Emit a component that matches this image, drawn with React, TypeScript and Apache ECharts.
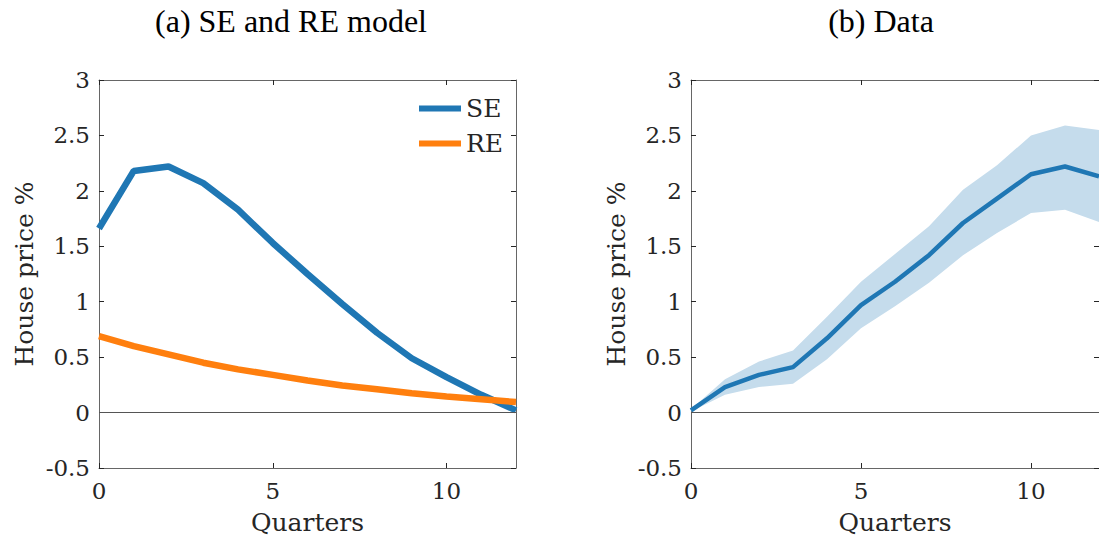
import React, { useEffect, useRef } from "react";
import * as echarts from "echarts";

const quarters = ["0", "1", "2", "3", "4", "5", "6", "7", "8", "9", "10", "11", "12"];
const seValues = [1.66, 2.18, 2.22, 2.07, 1.83, 1.53, 1.25, 0.98, 0.72, 0.49, 0.32, 0.16, 0.02];
const reValues = [0.69, 0.6, 0.525, 0.45, 0.39, 0.34, 0.29, 0.245, 0.21, 0.175, 0.145, 0.12, 0.095];
const dataValues = [0.02, 0.23, 0.34, 0.41, 0.67, 0.97, 1.18, 1.42, 1.71, 1.93, 2.15, 2.22, 2.13];
const dataUpper = [0.03, 0.3, 0.46, 0.56, 0.865, 1.18, 1.43, 1.68, 2.01, 2.23, 2.5, 2.59, 2.55];
const dataLower = [0.01, 0.16, 0.23, 0.26, 0.48, 0.76, 0.96, 1.17, 1.42, 1.62, 1.8, 1.83, 1.72];
const yMin = -0.5;
const yMax = 3;
const yStep = 0.5;
const xTickEvery = 5;

const TITLE_FONT = "'Liberation Serif', serif";
const FONT = "'DejaVu Serif', serif";
const TXT = "#262626";
const AXIS = "#666";

const showTick = (i: number) => i % xTickEvery === 0;

function xAxes(gridIndex: number) {
  return [
    {
      gridIndex,
      type: "category",
      data: quarters,
      boundaryGap: false,
      axisLine: { onZero: false, lineStyle: { color: AXIS, width: 1 } },
      axisTick: { inside: true, length: 5, interval: showTick, lineStyle: { color: TXT } },
      axisLabel: { interval: showTick, margin: 11, fontFamily: FONT, fontSize: 23, color: TXT },
      name: "Quarters",
      nameLocation: "middle",
      nameGap: 42,
      nameTextStyle: { fontFamily: FONT, fontSize: 25, color: TXT },
      splitLine: { show: false },
    },
    {
      gridIndex,
      type: "category",
      position: "top",
      data: quarters,
      boundaryGap: false,
      axisLine: { onZero: false, lineStyle: { color: AXIS, width: 1 } },
      axisTick: { inside: true, length: 5, interval: showTick, lineStyle: { color: TXT } },
      axisLabel: { show: false },
      splitLine: { show: false },
    },
  ];
}

function yAxes(gridIndex: number) {
  return [
    {
      gridIndex,
      type: "value",
      min: yMin,
      max: yMax,
      interval: yStep,
      axisLine: { show: true, lineStyle: { color: AXIS, width: 1 } },
      axisTick: { show: true, inside: true, length: 5, lineStyle: { color: TXT } },
      axisLabel: { margin: 9, fontFamily: FONT, fontSize: 23, color: TXT },
      splitLine: { show: false },
      name: "House price %",
      nameLocation: "middle",
      nameGap: 62,
      nameTextStyle: { fontFamily: FONT, fontSize: 25, color: TXT },
    },
    {
      gridIndex,
      type: "value",
      position: "right",
      min: yMin,
      max: yMax,
      interval: yStep,
      axisLine: { show: true, lineStyle: { color: AXIS, width: 1 } },
      axisTick: { show: true, inside: true, length: 5, lineStyle: { color: TXT } },
      axisLabel: { show: false },
      splitLine: { show: false },
    },
  ];
}

const zeroLine = {
  silent: true,
  symbol: ["none", "none"],
  label: { show: false },
  lineStyle: { color: "#555", width: 1, type: "solid" },
  data: [{ yAxis: 0 }],
};

export default function App() {
  const ref = useRef<HTMLDivElement>(null);
  useEffect(() => {
    if (!ref.current) return;
    const chart = echarts.init(ref.current, null, { renderer: "svg" });
    const bandDiff = dataUpper.map((u, i) => +(u - dataLower[i]).toFixed(4));
    chart.setOption({
      animation: false,
      backgroundColor: "#fff",
      textStyle: { fontFamily: FONT },
      grid: [
        { left: 99, top: 80, width: 417, height: 388 },
        { left: 691, top: 80, width: 416, height: 388 },
      ],
      xAxis: [...xAxes(0), ...xAxes(1)],
      yAxis: [...yAxes(0), ...yAxes(1)],
      legend: {
        data: ["SE", "RE"],
        orient: "vertical",
        left: 414,
        top: 90,
        icon: "rect",
        itemWidth: 42,
        itemHeight: 6,
        itemGap: 8,
        textStyle: { fontFamily: FONT, fontSize: 25, color: TXT, lineHeight: 27 },
      },
      graphic: [
        {
          type: "text",
          x: 291,
          y: 21,
          style: { text: "(a) SE and RE model", font: `32px ${TITLE_FONT}`, fill: "#000", textAlign: "center", textVerticalAlign: "middle" },
        },
        {
          type: "text",
          x: 881,
          y: 21,
          style: { text: "(b) Data", font: `32px ${TITLE_FONT}`, fill: "#000", textAlign: "center", textVerticalAlign: "middle" },
        },
      ],
      series: [
        {
          name: "SE",
          type: "line",
          xAxisIndex: 0,
          yAxisIndex: 0,
          data: seValues,
          symbol: "none",
          lineStyle: { color: "#1f77b4", width: 6.5 },
          itemStyle: { color: "#1f77b4" },
          markLine: zeroLine,
          z: 3,
        },
        {
          name: "RE",
          type: "line",
          xAxisIndex: 0,
          yAxisIndex: 0,
          data: reValues,
          symbol: "none",
          lineStyle: { color: "#ff7f0e", width: 6.5 },
          itemStyle: { color: "#ff7f0e" },
          z: 4,
        },
        {
          name: "lower",
          type: "line",
          xAxisIndex: 2,
          yAxisIndex: 2,
          data: dataLower,
          stack: "band",
          symbol: "none",
          lineStyle: { opacity: 0 },
          silent: true,
        },
        {
          name: "band",
          type: "line",
          xAxisIndex: 2,
          yAxisIndex: 2,
          data: bandDiff,
          stack: "band",
          symbol: "none",
          lineStyle: { opacity: 0 },
          areaStyle: { color: "#c5dcec", opacity: 1 },
          silent: true,
        },
        {
          name: "Data",
          type: "line",
          xAxisIndex: 2,
          yAxisIndex: 2,
          data: dataValues,
          symbol: "none",
          lineStyle: { color: "#1f77b4", width: 4.5 },
          itemStyle: { color: "#1f77b4" },
          markLine: zeroLine,
          z: 3,
        },
      ],
    });
    return () => chart.dispose();
  }, []);
  return (
    <div
      ref={ref}
      style={{ position: "absolute", left: 0, top: 0, width: 1099, height: 544, background: "#fff" }}
    />
  );
}
